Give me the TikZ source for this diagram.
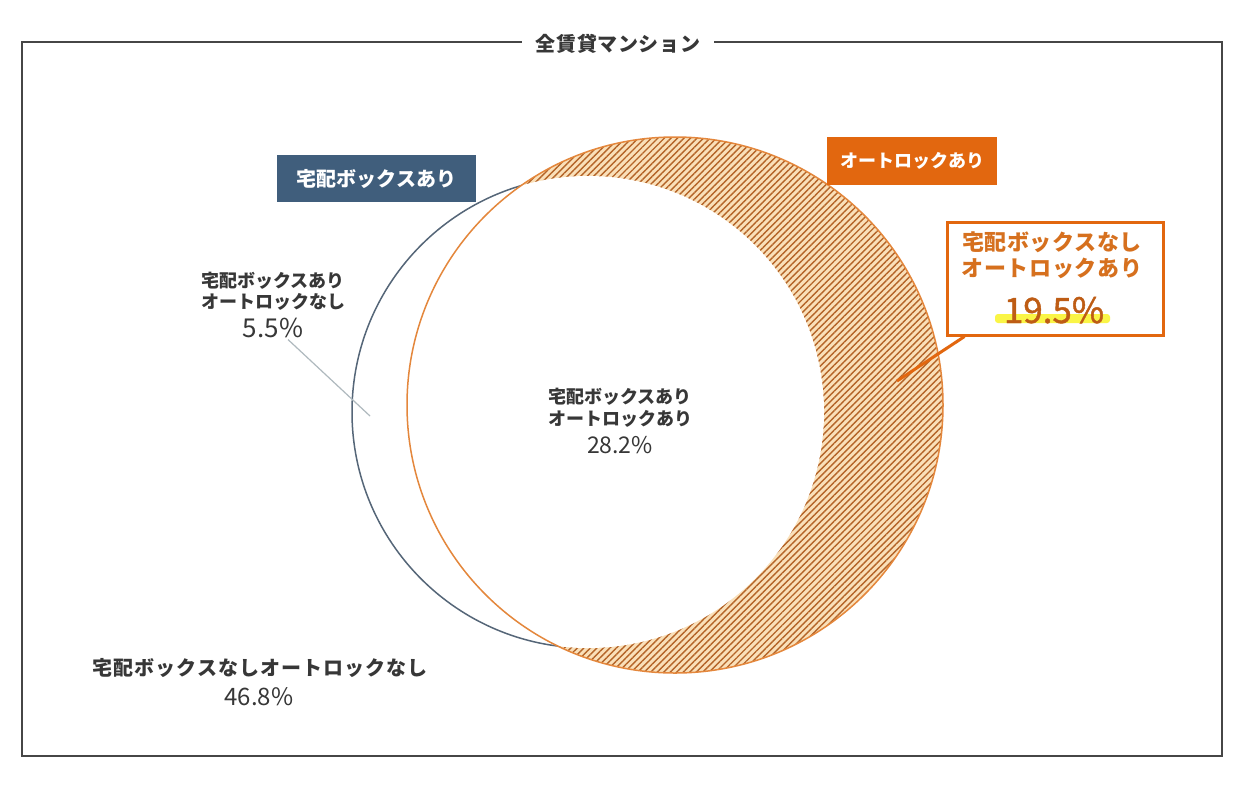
\documentclass[tikz,border=0pt]{standalone}
\usepackage{fontspec}
\setmainfont{Noto Sans CJK JP}
\usetikzlibrary{patterns.meta,calc}
\definecolor{framec}{RGB}{70,70,70}
\definecolor{bluebox}{RGB}{64,94,124}
\definecolor{bluec}{RGB}{85,102,120}
\definecolor{orangebox}{RGB}{226,103,15}
\definecolor{orangec}{RGB}{228,135,60}
\definecolor{hatchbg}{RGB}{250,224,185}
\definecolor{hatchln}{RGB}{180,100,40}
\definecolor{calltext}{RGB}{214,112,30}
\definecolor{bignum}{RGB}{190,92,20}
\definecolor{hilite}{RGB}{250,245,70}
\definecolor{txt}{RGB}{55,55,55}
\definecolor{leader}{RGB}{175,185,190}
\newcommand{\fsz}[1]{\fontsize{#1}{#1}\selectfont}
\begin{document}
\begin{tikzpicture}[x=1pt,y=-1pt,
  lbl/.style={inner sep=0pt, text=txt, font=\bfseries\fsz{18}},
  num/.style={inner sep=0pt, anchor=base, text=txt},
  tagbox/.style={inner sep=0pt, text=white, font=\bfseries\fsz{#1}},
]
\useasboundingbox (0,0) rectangle (1240,796);
\fill[white] (0,0) rectangle (1240,796);
% frame
\draw[framec, line width=2pt] (22,42) rectangle (1222,756);
\node[fill=white, inner xsep=14pt, inner ysep=2pt, text=txt, font=\bfseries\fsz{20}\addfontfeature{LetterSpace=3}] (title) at (618,44) {全賃貸マンション};
% circles
\draw[bluec, line width=1.5pt] (588,412) circle[radius=236];
\fill[hatchbg] (675,405) circle[radius=268];
\fill[pattern={Lines[angle=45,distance=4.6pt,line width=1.4pt]}, pattern color=hatchln] (675,405) circle[radius=268];
\begin{scope}
  \clip (675,405) circle[radius=268];
  \fill[white] (588,412) circle[radius=236];
\end{scope}
\draw[orangec, line width=1.5pt] (675,405) circle[radius=268];
% tag boxes
\node[tagbox=20, fill=bluebox, minimum width=199pt, minimum height=47pt] (bluetag) at (376.5,178.5) {宅配ボックスあり};
\node[tagbox=18, fill=orangebox, minimum width=170pt, minimum height=48pt] (orangetag) at (912,161) {オートロックあり};
% callout
\node[draw=orangebox, line width=3pt, fill=white, minimum width=216pt, minimum height=113pt, inner sep=0pt] (callout) at (1055,278.5) {};
\fill[hilite, rounded corners=3pt] (995,314) rectangle (1110,323);
\node[inner sep=0pt, text=calltext, font=\bfseries\fsz{22}\addfontfeature{LetterSpace=3}] (c1) at (1052,242.5) {宅配ボックスなし};
\node[inner sep=0pt, text=calltext, font=\bfseries\fsz{22}\addfontfeature{LetterSpace=3}] (c2) at (1052,268) {オートロックあり};
\node[num, text=bignum, font=\fsz{35}\addfontfeature{FakeBold=1.2}] (c3) at (1054,323) {19.5\%};
\coordinate (cend) at (897,381);
\draw[orangebox, line width=3pt] ($(callout.south west)+(19,0)$) -- (cend);
% left label
\node[lbl] (l1) at (273,281) {宅配ボックスあり};
\node[lbl] (l2) at (273,302) {オートロックなし};
\node[num, font=\fsz{26}] (l3) at (273,337) {5.5\%};
\coordinate (lend) at (370,416);
\draw[leader, line width=1.2pt] ($(l3.south)+(15,2)$) -- (lend);
% center label
\node[lbl] (m1) at (620,397) {宅配ボックスあり};
\node[lbl] (m2) at (620,418.5) {オートロックあり};
\node[num, font=\fsz{23}] (m3) at (620,453) {28.2\%};
% bottom label
\node[lbl, font=\bfseries\fsz{20}\addfontfeature{LetterSpace=5}] (b1) at (260,668) {宅配ボックスなしオートロックなし};
\node[num, font=\fsz{24}] (b2) at (259,705) {46.8\%};
\end{tikzpicture}
\end{document}
